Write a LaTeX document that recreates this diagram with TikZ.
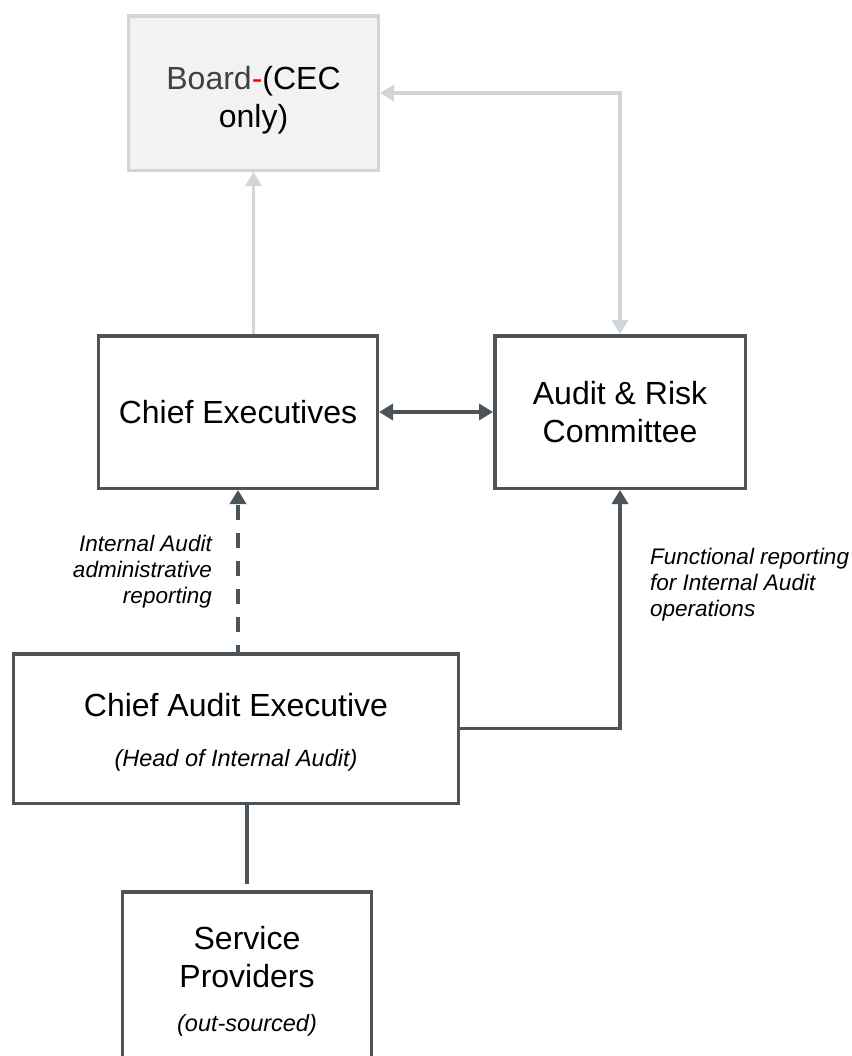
\documentclass[tikz,border=0pt]{standalone}
\usepackage{fontspec}
\setmainfont{Liberation Sans}
\usetikzlibrary{arrows.meta}

\definecolor{linedark}{HTML}{4D5459}
\definecolor{linelight}{HTML}{D0D5D9}
\definecolor{boardfill}{HTML}{F2F2F2}
\definecolor{boardtxt}{HTML}{404040}

\newcommand{\boxfont}{\fontsize{32bp}{38bp}\selectfont}
\newcommand{\subfont}{\fontsize{23.5bp}{28bp}\selectfont\itshape}
\newcommand{\notefont}{\fontsize{22.5bp}{26bp}\selectfont\itshape}

\tikzset{
	rtip/.tip={Triangle[length=14bp,width=16bp]},
	box/.style={draw=linedark, line width=3.5bp, align=center, font=\boxfont, inner sep=0pt},
	boardbox/.style={box, draw=linelight, fill=boardfill},
	darkline/.style={draw=linedark, line width=3.5bp},
	lightline/.style={draw=linelight, line width=3.5bp},
	note/.style={font=\notefont, inner sep=0pt},
}

\begin{document}
\begin{tikzpicture}[x=1bp,y=-1bp]
			\clip (0,0) rectangle (852,1056);
			\node[boardbox, minimum width=249.5bp, minimum height=154.5bp] (board) at (253.5,93) {\rule{0pt}{37bp}{\color{boardtxt}Board}{\color{red}-}(CEC\\only)};
			\node[box, minimum width=278.5bp, minimum height=152.5bp] (ce) at (238,412) {Chief Executives};
			\node[box, minimum width=250.5bp, minimum height=152.5bp] (arc) at (620,412) {Audit \& Risk\\Committee};
			\node[box, minimum width=444.5bp, minimum height=149.5bp] (cae) at (236,728.5) {\rule{0pt}{30bp}Chief Audit Executive\\[12bp]{\subfont (Head of Internal Audit)}};
			\node[box, minimum width=248.5bp, minimum height=180bp] (sp) at (247,981.75) {Service\\Providers\\[6bp]{\subfont (out-sourced)}};
			
			\node[note, align=right, anchor=east] (adminnote) at (212,572) {Internal Audit\\administrative\\reporting};
			\node[note, align=left, anchor=west] (funcnote) at (650,584.5) {Functional reporting\\for Internal Audit\\operations};
			
			\draw[lightline, -rtip] (ce.north -| board) -- (board.south);
			\draw[lightline, rtip-rtip] (board.east) -- (board.east -| arc) -- (arc.north);
			\draw[darkline, rtip-rtip] (ce.east) -- (arc.west);
			\draw[darkline, -rtip, dash pattern=on 15bp off 13bp, dash phase=8bp] (cae.north -| ce) -- (ce.south);
			\draw[darkline, -rtip] (cae.east) -| (arc.south);
			\draw[darkline, shorten >=6bp] (cae.south -| sp) -- (sp.north);
		\end{tikzpicture}
\end{document}
